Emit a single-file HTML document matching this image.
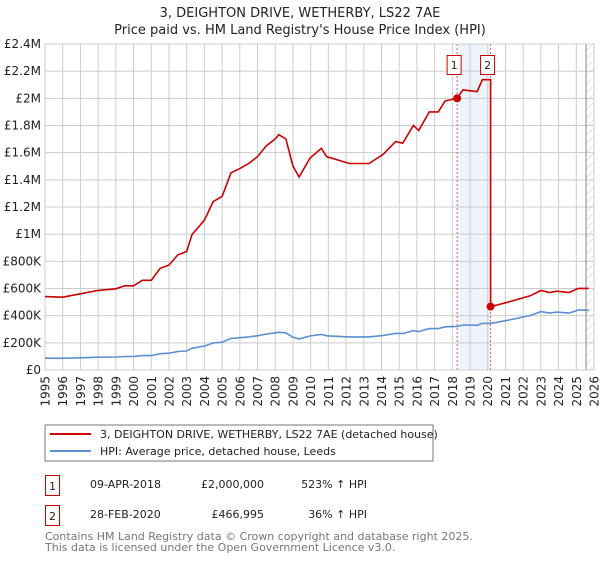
<!DOCTYPE html>
<html><head><meta charset="utf-8">
<style>
body{margin:0;background:#fff;font-family:"DejaVu Sans","Liberation Sans",sans-serif;}
svg text{font-family:"DejaVu Sans","Liberation Sans",sans-serif;}
</style></head>
<body>
<svg id="chart" width="600" height="560" viewBox="0 0 600 560" xmlns="http://www.w3.org/2000/svg">
<defs>
<pattern id="hatch" width="6" height="6" patternUnits="userSpaceOnUse" patternTransform="rotate(45)">
<line x1="0" y1="0" x2="0" y2="6" stroke="#ccc" stroke-width="1"/>
</pattern>
</defs>
<text x="300" y="17" text-anchor="middle" font-size="13" fill="#222">3, DEIGHTON DRIVE, WETHERBY, LS22 7AE</text>
<text x="300" y="34" text-anchor="middle" font-size="13" fill="#222">Price paid vs. HM Land Registry's House Price Index (HPI)</text>
<g id="grid"></g>
<g id="marks"></g>
<g id="legend">
<rect x="45" y="425" width="388" height="36" fill="#fff" stroke="#777" stroke-width="1"/>
<line x1="50" y1="434" x2="91" y2="434" stroke="#cc0000" stroke-width="2"/>
<text x="100" y="438" font-size="11" fill="#222">3, DEIGHTON DRIVE, WETHERBY, LS22 7AE (detached house)</text>
<line x1="50" y1="451" x2="91" y2="451" stroke="#5b8fd4" stroke-width="2"/>
<text x="100" y="455" font-size="11" fill="#222">HPI: Average price, detached house, Leeds</text>
</g>
<g>
<rect x="45.5" y="475.5" width="14" height="20" fill="#fff" stroke="#cc0000"/>
<text x="52.5" y="490" font-size="11" text-anchor="middle" fill="#222">1</text>
<text x="90" y="488" font-size="11" fill="#222">09-APR-2018</text>
<text x="264" y="488" font-size="11" text-anchor="end" fill="#222">£2,000,000</text>
<text x="367" y="488" font-size="11" text-anchor="end" fill="#222">523% ↑ HPI</text>
<rect x="45.5" y="505.5" width="14" height="20" fill="#fff" stroke="#cc0000"/>
<text x="52.5" y="520" font-size="11" text-anchor="middle" fill="#222">2</text>
<text x="90" y="518" font-size="11" fill="#222">28-FEB-2020</text>
<text x="264" y="518" font-size="11" text-anchor="end" fill="#222">£466,995</text>
<text x="367" y="518" font-size="11" text-anchor="end" fill="#222">36% ↑ HPI</text>
</g>
<text x="45" y="540" font-size="11" fill="#777">Contains HM Land Registry data © Crown copyright and database right 2025.</text>
<text x="45" y="551" font-size="11" fill="#777">This data is licensed under the Open Government Licence v3.0.</text>
</svg>
<script>
const yTicks = [0,200000,400000,600000,800000,1000000,1200000,1400000,1600000,1800000,2000000,2200000,2400000];
const yTickLabels = ["£0","£200K","£400K","£600K","£800K","£1M","£1.2M","£1.4M","£1.6M","£1.8M","£2M","£2.2M","£2.4M"];
const xYears = [1995,1996,1997,1998,1999,2000,2001,2002,2003,2004,2005,2006,2007,2008,2009,2010,2011,2012,2013,2014,2015,2016,2017,2018,2019,2020,2021,2022,2023,2024,2025,2026];
const hpiTimes = [1995,1996,1997,1998,1999,1999.5,2000,2000.5,2001,2001.5,2002,2002.5,2003,2003.3,2004,2004.5,2005,2005.5,2006,2006.5,2007,2007.5,2008,2008.2,2008.6,2009,2009.35,2009.95,2010.6,2010.9,2012.2,2013.3,2014.1,2014.8,2015.2,2015.8,2016.1,2016.7,2017.2,2017.6,2018.27,2018.6,2019.4,2019.7,2020.1,2020.16,2021.2,2022.4,2023,2023.5,2023.9,2024.6,2025.1,2025.7];
const hpiValues = [86700,86000,90000,94000,96000,99500,99500,106000,106000,120000,124000,136000,140000,160000,177000,199000,205000,233000,238000,244000,252000,265000,273000,278000,273000,241000,228000,250000,262000,252000,244000,244000,255000,270000,268000,289000,283000,305000,305000,318000,321000,331000,329000,343000,343000,343000,368000,401000,430000,419000,426000,419000,441000,441000];
const saleTimes = [2018.27,2020.16];
const salePrices = [2000000,466995];
const saleLabels = ["1","2"];

const NS="http://www.w3.org/2000/svg";
const X0=45,X1=594,Y0=370,Y1=44,T0=1995,T1=2026,VMAX=2400000;
const xs=t=>X0+(t-T0)/(T1-T0)*(X1-X0);
const ys=v=>Y0-v/VMAX*(Y0-Y1);
const grid=document.getElementById('grid'), marks=document.getElementById('marks');
function mk(tag,attrs,parent){const e=document.createElementNS(NS,tag);for(const k in attrs)e.setAttribute(k,attrs[k]);parent.appendChild(e);return e;}

let band=mk('rect',{x:xs(saleTimes[0]),y:Y1,width:xs(saleTimes[1])-xs(saleTimes[0]),height:Y0-Y1,fill:'#eef3fc'},grid);


const hatchStart=2025.55;
let hz=mk('rect',{x:xs(hatchStart),y:Y1,width:X1-xs(hatchStart),height:Y0-Y1,fill:'url(#hatch)'},grid);



yTicks.forEach((v,i)=>{
  let l=mk('line',{x1:X0,x2:X1,y1:ys(v),y2:ys(v),stroke:'#ccc','stroke-width':1},grid);
  
  
  let t=mk('text',{x:X0-4,y:ys(v)+4,'text-anchor':'end','font-size':12,fill:'#222'},grid);
  t.textContent=yTickLabels[i];
  
  
});
xYears.forEach(yr=>{
  let l=mk('line',{x1:xs(yr),x2:xs(yr),y1:Y1,y2:Y0,stroke:'#ccc','stroke-width':1},grid);
  
  
  const tx=xs(yr)+4.5, ty=376;
  let t=mk('text',{x:tx,y:ty,'text-anchor':'end','font-size':12,fill:'#222',transform:'rotate(-90 '+tx+' '+ty+')'},grid);
  t.textContent=yr;
  
  
});
let hl=mk('line',{x1:xs(hatchStart),x2:xs(hatchStart),y1:Y1,y2:Y0,stroke:'#888','stroke-width':1},grid);



saleTimes.forEach((t,i)=>{
  let l=mk('line',{x1:xs(t),x2:xs(t),y1:Y1,y2:Y0,stroke:'#e06060','stroke-width':1,'stroke-dasharray':'2,2'},grid);
  
  
});

let hp=hpiTimes.map((t,i)=>xs(t).toFixed(1)+','+ys(hpiValues[i]).toFixed(1)).join(' ');
let hpi=mk('polyline',{points:hp,fill:'none',stroke:'#5b8fd4','stroke-width':1.6},marks);



function hpiAt(t){for(let i=1;i<hpiTimes.length;i++){if(t<=hpiTimes[i]){const a=hpiTimes[i-1],b=hpiTimes[i];return hpiValues[i-1]+(hpiValues[i]-hpiValues[i-1])*(t-a)/(b-a);}}return hpiValues[hpiValues.length-1];}
const f1=salePrices[0]/hpiAt(saleTimes[0]), f2=salePrices[1]/hpiAt(saleTimes[1]);
let rp=[];
hpiTimes.forEach((t,i)=>{
  if(t<saleTimes[1]) rp.push([t,hpiValues[i]*f1]);
  else if(t===saleTimes[1]){rp.push([t,hpiValues[i]*f1]);rp.push([t,hpiValues[i]*f2]);}
  else rp.push([t,hpiValues[i]*f2]);
});
let red=mk('polyline',{points:rp.map(p=>xs(p[0]).toFixed(1)+','+ys(p[1]).toFixed(1)).join(' '),fill:'none',stroke:'#cc0000','stroke-width':1.6},marks);



saleTimes.forEach((t,i)=>{
  let c=mk('circle',{cx:xs(t),cy:ys(salePrices[i]),r:4,fill:'#cc0000'},marks);
  
  
  let bx=xs(t)-10;
  let r=mk('rect',{x:bx,y:55.5,width:14,height:19,fill:'#fff',stroke:'#cc0000'},marks);
  
  
  let tx=mk('text',{x:bx+7,y:69,'text-anchor':'middle','font-size':11,fill:'#222'},marks);
  tx.textContent=saleLabels[i];
  
  
});
let ax=mk('rect',{x:X0,y:Y1,width:X1-X0,height:Y0-Y1,fill:'none',stroke:'#ccc'},grid);


</script>
</body></html>
